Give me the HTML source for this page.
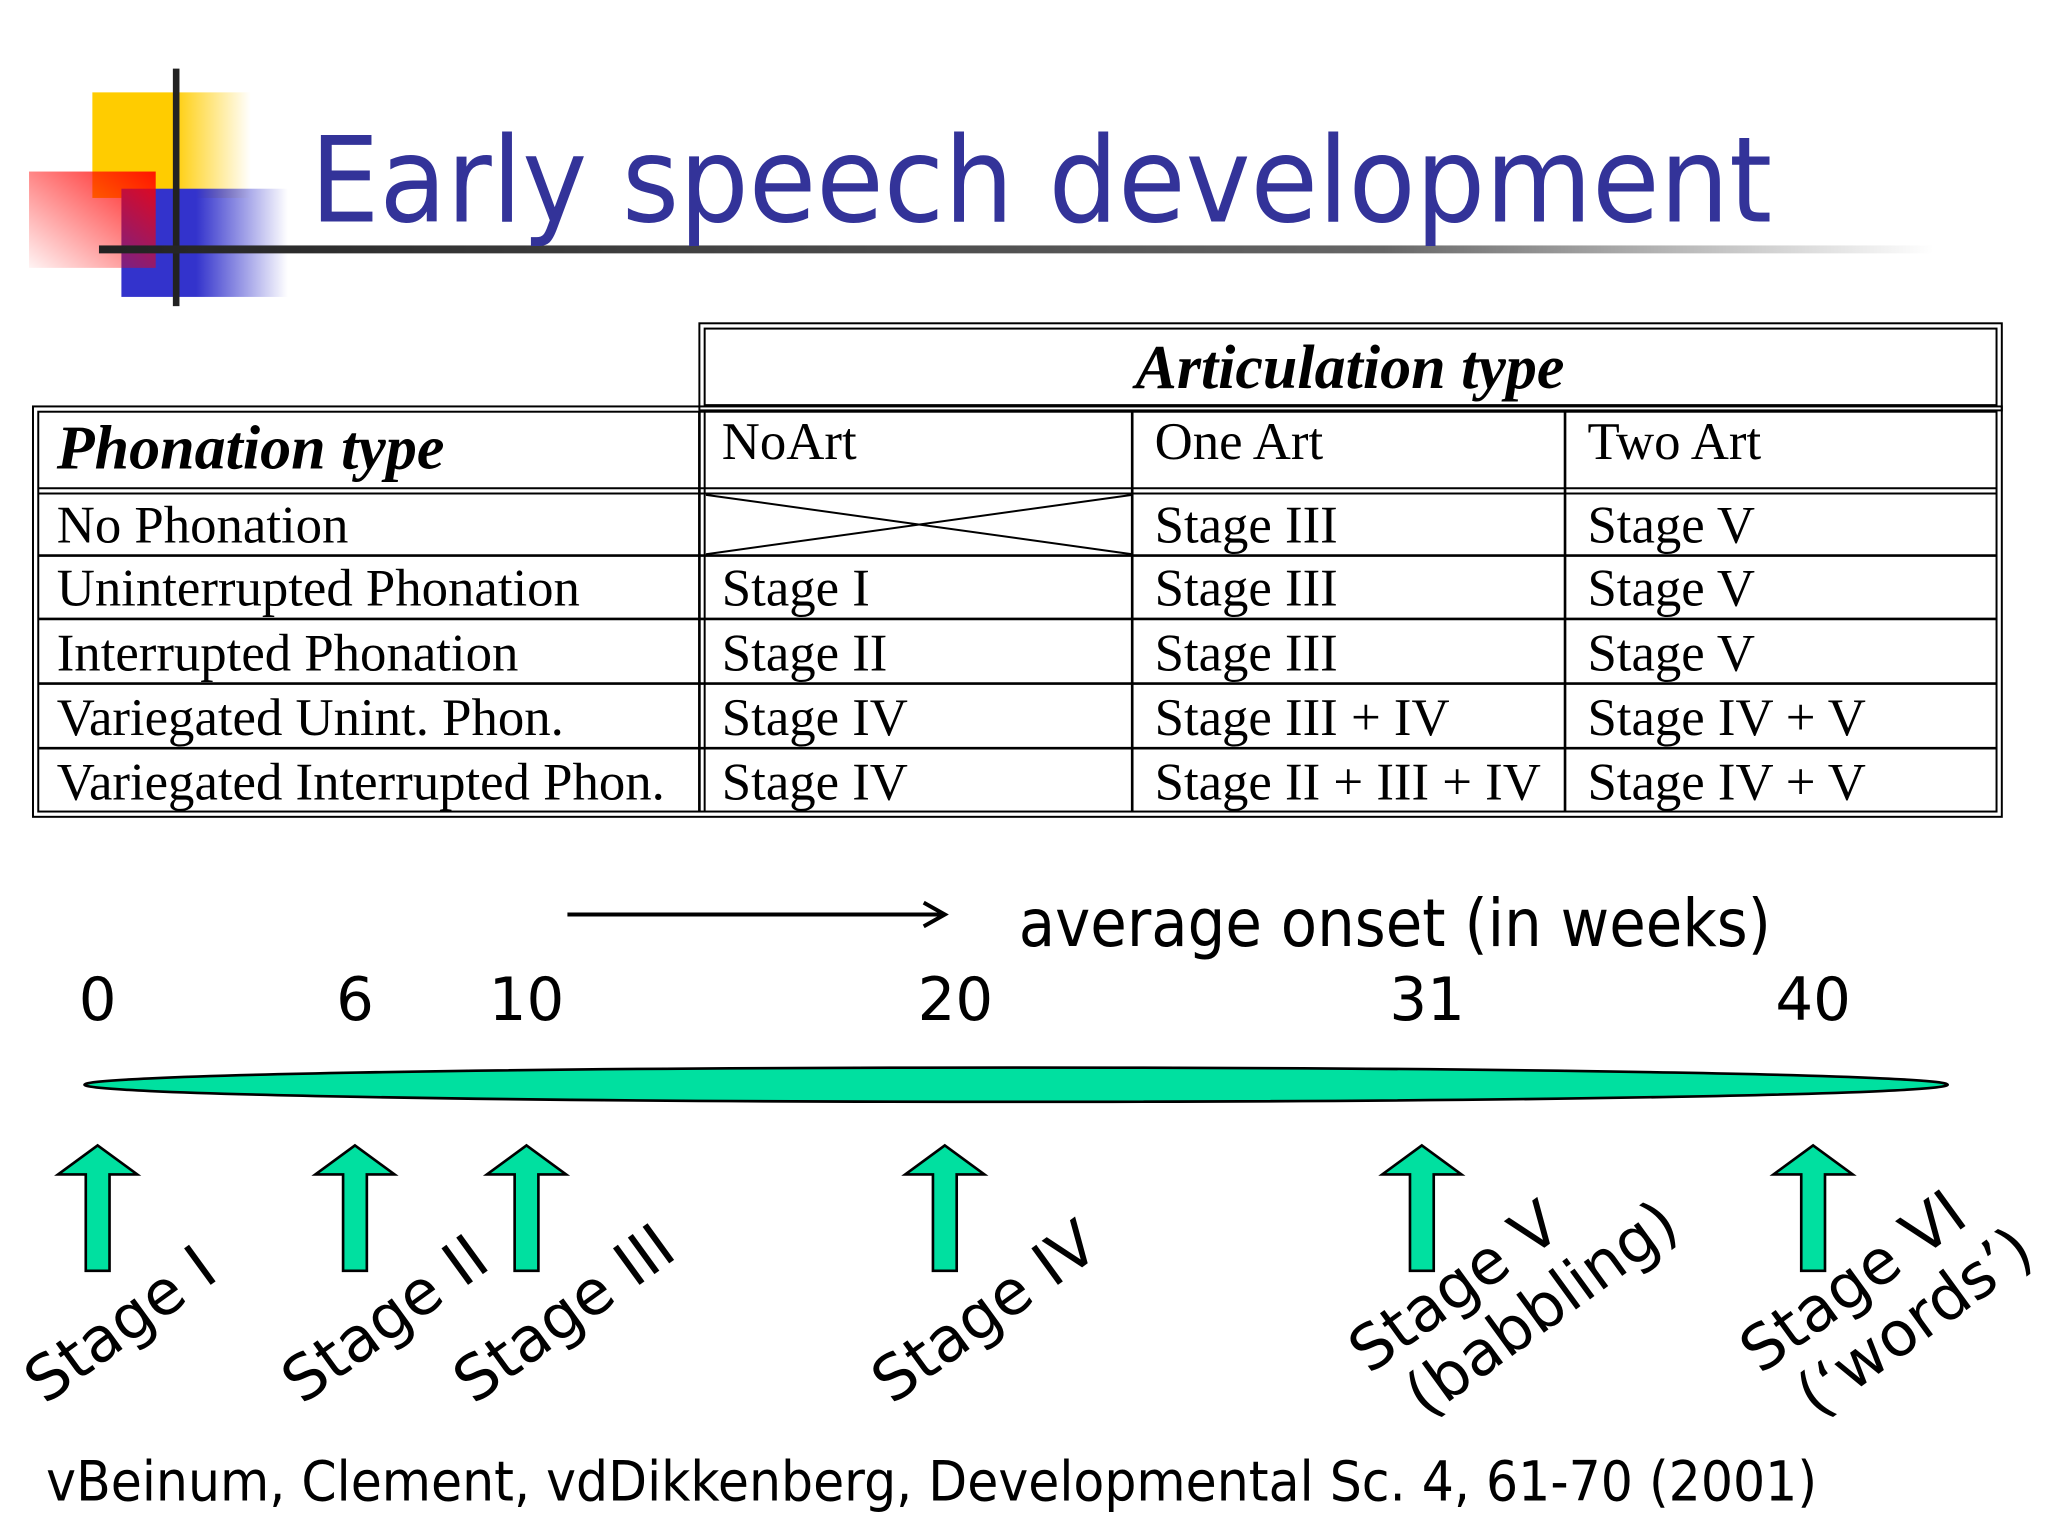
<!DOCTYPE html>
<html><head><meta charset="utf-8"><style>
html,body{margin:0;padding:0;background:#fff;}
svg{display:block;}
</style></head><body>
<svg id="s" width="2048" height="1536" viewBox="0 0 1552 1164" xmlns="http://www.w3.org/2000/svg">
<defs>
<linearGradient id="gy" x1="0" x2="1"><stop offset="0.5" stop-color="#ffcc00"/><stop offset="1" stop-color="#ffcc00" stop-opacity="0"/></linearGradient>
<linearGradient id="gb" x1="0" x2="1"><stop offset="0.45" stop-color="#3333cc"/><stop offset="1" stop-color="#3333cc" stop-opacity="0"/></linearGradient>
<linearGradient id="gr" x1="1" y1="0" x2="0" y2="1"><stop offset="0" stop-color="#ff0000"/><stop offset="1" stop-color="#ff0000" stop-opacity="0.05"/></linearGradient>
<linearGradient id="gl" x1="0" x2="1"><stop offset="0" stop-color="#222"/><stop offset="0.7" stop-color="#666"/><stop offset="1" stop-color="#fff"/></linearGradient>
</defs>
<g>
<rect x="70" y="70" width="120" height="80" fill="url(#gy)"/>
<rect x="92" y="143" width="126" height="82" fill="url(#gb)"/>
<rect x="22" y="130" width="96" height="73" fill="url(#gr)" opacity="0.9"/>
<rect x="131" y="52" width="5" height="180" fill="#222"/>
</g>
<rect x="75" y="186" width="1390" height="6" fill="url(#gl)"/>
<text x="235" y="168" font-family="DejaVu Sans, sans-serif" font-size="90" fill="#333399" textLength="1108" lengthAdjust="spacingAndGlyphs">Early speech development</text>

<g id="tbl" font-family="Liberation Serif, serif" font-size="40" fill="#000"></g>

<g id="tl"></g>

<text x="35" y="1137" font-family="DejaVu Sans, sans-serif" font-size="42" textLength="1342" lengthAdjust="spacingAndGlyphs">vBeinum, Clement, vdDikkenberg, Developmental Sc. 4, 61-70 (2001)</text>
</svg>
<script>
const weeks=[0,6,10,20,31,40];
const stageWeeks=[0,6,10,20,31,40];
const stageLabels=[["Stage I"],["Stage II"],["Stage III"],["Stage IV"],["Stage V","(babbling)"],["Stage VI","(\u2018words\u2019)"]];
const rowLabels=["No Phonation","Uninterrupted Phonation","Interrupted Phonation","Variegated Unint. Phon.","Variegated Interrupted Phon."];
const colLabels=["NoArt","One Art","Two Art"];
const cells=[["","Stage III","Stage V"],["Stage I","Stage III","Stage V"],["Stage II","Stage III","Stage V"],["Stage IV","Stage III + IV","Stage IV + V"],["Stage IV","Stage II + III + IV","Stage IV + V"]];

const NS="http://www.w3.org/2000/svg";
function mk(t,a,p){const e=document.createElementNS(NS,t);for(const k in a)e.setAttribute(k,a[k]);p.appendChild(e);return e;}
const tbl=document.getElementById('tbl');
const cx=[25,530,858,1186,1517];
const ry=[308,370,421,469,518,567,616];
function dbl(x,y,w,h){mk('rect',{x:x,y:y,width:w,height:h,fill:'none',stroke:'#000','stroke-width':1.5},tbl);mk('rect',{x:x+4,y:y+4,width:w-8,height:h-8,fill:'none',stroke:'#000','stroke-width':1.5},tbl);}
dbl(530,245,987,66);
dbl(25,308,1492,311);
for(let i=1;i<ry.length-1;i++){mk('line',{x1:29,x2:1513,y1:ry[i],y2:ry[i],stroke:'#000','stroke-width':i==1?1.5:2},tbl);
 if(i==1){mk('line',{x1:29,x2:1513,y1:ry[i]+4,y2:ry[i]+4,stroke:'#000','stroke-width':1.5},tbl);}}
for(let j=1;j<cx.length-1;j++){mk('line',{x1:cx[j],x2:cx[j],y1:312,y2:615,stroke:'#000','stroke-width':2},tbl);
 if(j==1)mk('line',{x1:cx[j]+4,x2:cx[j]+4,y1:312,y2:615,stroke:'#000','stroke-width':1.5},tbl);}
let t=mk('text',{x:1023,y:294,'text-anchor':'middle','font-weight':'bold','font-style':'italic','font-size':47},tbl);t.textContent="Articulation type";

t=mk('text',{x:43,y:355,'font-weight':'bold','font-style':'italic','font-size':47},tbl);t.textContent="Phonation type";

colLabels.forEach((c,j)=>{const e=mk('text',{x:cx[j+1]+17,y:348},tbl);e.textContent=c;
 
 });
rowLabels.forEach((r,i)=>{const y=ry[i+2]-10;const e=mk('text',{x:43,y:y},tbl);e.textContent=r;
 
 
 cells[i].forEach((c,j)=>{if(!c)return;const f=mk('text',{x:cx[j+1]+17,y:y},tbl);f.textContent=c;
  
  });});
mk('line',{x1:535,y1:375,x2:858,y2:420,stroke:'#000','stroke-width':1.5},tbl);
mk('line',{x1:535,y1:420,x2:858,y2:375,stroke:'#000','stroke-width':1.5},tbl);
const tl=document.getElementById('tl');
const X=w=>74+w*32.5;
mk('line',{x1:430,y1:693,x2:714,y2:693,stroke:'#000','stroke-width':3},tl);
mk('path',{d:'M700 684 L716 693 L700 702',fill:'none',stroke:'#000','stroke-width':3},tl);
let a=mk('text',{x:772,y:717,'font-family':'DejaVu Sans, sans-serif','font-size':50,textLength:570,lengthAdjust:'spacingAndGlyphs'},tl);a.textContent="average onset (in weeks)";

weeks.forEach(w=>{const e=mk('text',{x:X(w),y:773,'text-anchor':'middle','font-family':'DejaVu Sans, sans-serif','font-size':45},tl);e.textContent=String(w);
 
 });
const el=mk('ellipse',{cx:770,cy:822,rx:706,ry:13,fill:'#00e0a0',stroke:'#000','stroke-width':2},tl);

stageWeeks.forEach((w,i)=>{const x=X(w)+(i==3?-8:i==4?-4:0);
 const p=mk('path',{d:`M${x} 868 L${x+30} 890 L${x+9} 890 L${x+9} 963 L${x-9} 963 L${x-9} 890 L${x-30} 890 Z`,fill:'#00e0a0',stroke:'#000','stroke-width':2},tl);
 
 
 const g=mk('g',{transform:`translate(${x-40} ${i>=4?1042:1065}) rotate(-36)`},tl);
 
 
 stageLabels[i].forEach((s,k)=>{const e=mk('text',{x:k*15,y:k*52,'font-family':'DejaVu Sans, sans-serif','font-size':47},g);e.textContent=s;});
});
</script>
</body></html>
